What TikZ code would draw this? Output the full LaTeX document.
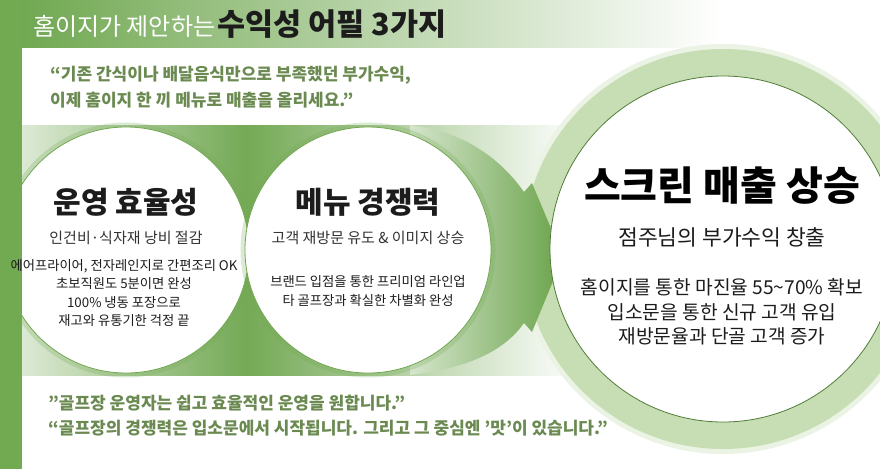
\documentclass[tikz,border=0pt]{standalone}
\usepackage{fontspec}
\setmainfont{Noto Sans CJK KR}
\usepackage{tikz}
\usetikzlibrary{positioning}
\definecolor{barGreen}{HTML}{72AA52}
\definecolor{headGreen}{HTML}{6CA54C}
\definecolor{quoteGreen}{HTML}{6B8A51}
\definecolor{bandGreen}{HTML}{74A955}
\definecolor{arrowGreen}{HTML}{6AA34A}
\definecolor{ringGreen}{HTML}{C7DDB3}
\definecolor{ringEdge}{HTML}{4F7D37}
\definecolor{rimGreen}{HTML}{72A852}
\definecolor{inkDark}{HTML}{1C1C1C}

\tikzset{
  quote/.style={anchor=west, inner sep=0pt, text=quoteGreen, font=\bfseries\fontsize{17}{17}\selectfont},
  headline/.style={inner sep=0pt, text=inkDark, font=\bfseries\fontsize{30}{30}\selectfont},
  subline/.style={inner sep=0pt, text=inkDark!90, font=\fontsize{15}{15}\selectfont},
  bodyline/.style={inner sep=0pt, align=center, text=inkDark, font=\fontsize{13.3}{18.3}\selectfont},
  bubble/.style={fill=white, draw=rimGreen, line width=0.8pt},
  glow/.style={draw=bandGreen, line width=5pt, opacity=0.25},
}

\begin{document}
\begin{tikzpicture}[x=1pt, y=-1pt]
  \useasboundingbox (0,0) rectangle (880,469);

  % header strip and green band
  \shade[left color=headGreen, right color=white] (0,0) rectangle (720,47);
  \shade[left color=bandGreen!25, right color=bandGreen] (22,125) rectangle (246,375);
  \shade[left color=bandGreen, right color=white] (246,125) rectangle (580,375);

  % ring of the big circle
  \fill[ringGreen!35] (723,249) circle (205pt);
  \fill[ringGreen] (723,249) circle (200pt);

  % arrow into the big circle
  \shade[left color=bandGreen!30, right color=arrowGreen]
    (410,125) .. controls (470,132) and (505,165) .. (524,192)
    -- (532,183) -- (563,257) -- (532,332) -- (524,323)
    .. controls (505,350) and (470,368) .. (410,375) -- cycle;
  \draw[ringEdge, line width=0.8pt, fill=white] (723,249) circle (173pt);

  % the two bubbles
  \draw[glow] (126,250) circle (125pt);
  \draw[bubble] (126,250) circle (123pt);
  \draw[glow] (368,250) circle (125pt);
  \draw[bubble] (368,250) circle (123pt);

  \fill[barGreen] (0,0) rectangle (22,469);

  \node[anchor=west, inner sep=0pt] (title) at (33,24)
    {{\color{white}\fontsize{24}{24}\selectfont 홈이지가 제안하는} {\color{inkDark}\bfseries\fontsize{30.5}{30.5}\selectfont 수익성 어필 3가지}};

  \node[quote] (intro1) at (50,75) {“기존 간식이나 배달음식만으로 부족했던 부가수익,};
  \node[quote] (intro2) at (50,100) {이제 홈이지 한 끼 메뉴로 매출을 올리세요."};

  \node[headline] (opsTitle) at (126,202) {운영 효율성};
  \node[subline] (opsSub) at (126,238) {인건비·식자재 낭비 절감};
  \node[bodyline] (opsBody) at (124,293)
    {에어프라이어, 전자레인지로 간편조리 OK\\초보직원도 5분이면 완성\\100\% 냉동 포장으로\\재고와 유통기한 걱정 끝};

  \node[headline] (menuTitle) at (368,202) {메뉴 경쟁력};
  \node[subline] (menuSub) at (368,238) {고객 재방문 유도 \& 이미지 상승};
  \node[bodyline] (menuBody) at (368,291)
    {브랜드 입점을 통한 프리미엄 라인업\\타 골프장과 확실한 차별화 완성};

  \node[inner sep=0pt, text=black, font=\bfseries\fontsize{40}{40}\selectfont] (salesTitle) at (722,186) {스크린 매출 상승};
  \node[inner sep=0pt, text=inkDark, font=\fontsize{21.5}{21.5}\selectfont] (salesSub) at (722,237) {점주님의 부가수익 창출};
  \node[inner sep=0pt, align=center, text=inkDark, font=\fontsize{19.2}{24.5}\selectfont] (salesBody) at (722,312)
    {홈이지를 통한 마진율 55\textasciitilde70\% 확보\\입소문을 통한 신규 고객 유입\\재방문율과 단골 고객 증가};

  \node[quote] (golf1) at (48,403) {"골프장 운영자는 쉽고 효율적인 운영을 원합니다."};
  \node[quote] (golf2) at (48,428) {“골프장의 경쟁력은 입소문에서 시작됩니다. 그리고 그 중심엔 '맛'이 있습니다.”};
\end{tikzpicture}
\end{document}
